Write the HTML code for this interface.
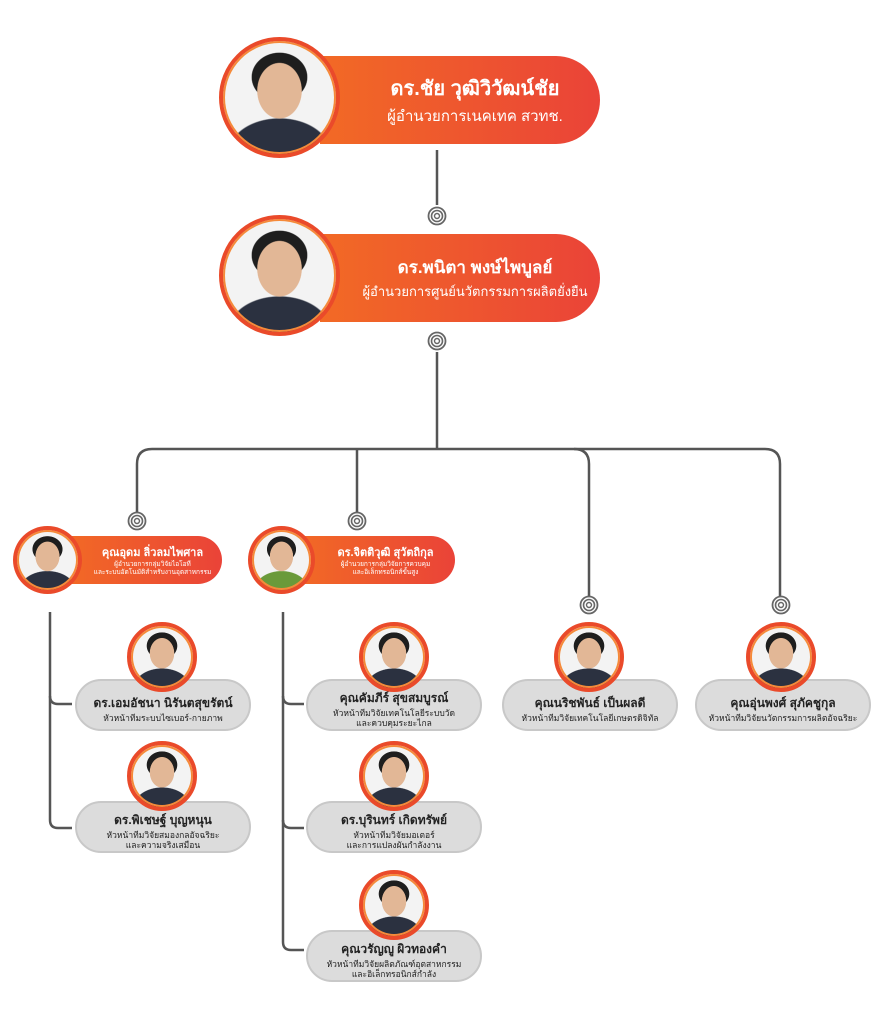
<!DOCTYPE html>
<html><head><meta charset="utf-8">
<style>
*{margin:0;padding:0;box-sizing:border-box}
body{width:894px;height:1024px;background:#fff;position:relative;overflow:hidden;font-family:"Liberation Sans","DejaVu Sans",sans-serif}
.abs{position:absolute}
.pill{position:absolute;background:linear-gradient(90deg,#f26a25,#ea4338);color:#fff;text-align:center;display:flex;flex-direction:column;justify-content:center;border-radius:0 60px 60px 0}
.ph{position:absolute;border-radius:50%;border:4px solid #ea4a2a;box-shadow:0 0 0 2px #f58a3a inset;
background:radial-gradient(ellipse 20% 25% at 50% 44%,#e2b796 97%,transparent 100%),radial-gradient(ellipse 25% 22% at 50% 32%,#1e1e1e 97%,transparent 100%),radial-gradient(ellipse 46% 32% at 50% 100%,#2b3140 97%,transparent 100%),#f3f3f3}
.card{position:absolute;background:#dcdcdc;border:2px solid #c8c8c8;border-radius:26px;text-align:center;color:#222;display:flex;flex-direction:column;justify-content:center;padding-top:6px}
.card b{font-size:12px}
.card span{font-size:8.5px;line-height:10px}
</style></head><body>
<svg class="abs" style="left:0;top:0" width="894" height="1024">
<g fill="none" stroke="#555" stroke-width="2.5">
<path d="M437 150V205"/>
<path d="M437 352V449"/>
<path d="M137 512V464Q137 449 152 449H765Q780 449 780 464V596"/>
<path d="M357 449V512"/>
<path d="M574 449Q589 449 589 464V596"/>
<path d="M50 612V820Q50 828 58 828H72"/>
<path d="M50 696Q50 704 58 704H72"/>
<path d="M283 612V942Q283 950 291 950H304"/>
<path d="M283 696Q283 704 291 704H304"/>
<path d="M283 820Q283 828 291 828H304"/>
</g>
<defs><g id="ic"><circle r="8.5" fill="#fff" stroke="#666" stroke-width="1.8"/><circle r="5.5" fill="none" stroke="#666" stroke-width="1.6"/><circle r="2.5" fill="none" stroke="#666" stroke-width="1.4"/></g></defs>
<use href="#ic" x="437" y="216"/><use href="#ic" x="437" y="341"/>
<use href="#ic" x="137" y="521"/><use href="#ic" x="357" y="521"/>
<use href="#ic" x="589" y="605"/><use href="#ic" x="781" y="605"/>
</svg>

<div class="pill" style="left:320px;top:56px;width:280px;height:88px;padding-left:30px"><div style="font-size:20px;font-weight:bold">ดร.ชัย วุฒิวิวัฒน์ชัย</div><div style="font-size:15px">ผู้อำนวยการเนคเทค สวทช.</div></div>
<div class="ph" style="left:219px;top:37px;width:121px;height:121px"></div>

<div class="pill" style="left:320px;top:234px;width:280px;height:88px;padding-left:30px"><div style="font-size:17px;font-weight:bold">ดร.พนิตา พงษ์ไพบูลย์</div><div style="font-size:13px">ผู้อำนวยการศูนย์นวัตกรรมการผลิตยั่งยืน</div></div>
<div class="ph" style="left:219px;top:215px;width:121px;height:121px"></div>

<div class="pill" style="left:65px;top:536px;width:157px;height:48px;padding-left:18px;border-radius:0 24px 24px 0"><div style="font-size:11px;font-weight:bold">คุณอุดม ลิ่วลมไพศาล</div><div style="font-size:6.5px;line-height:8px">ผู้อำนวยการกลุ่มวิจัยไอโอที<br>และระบบอัตโนมัติสำหรับงานอุตสาหกรรม</div></div>
<div class="ph" style="left:13px;top:526px;width:69px;height:68px"></div>

<div class="pill" style="left:298px;top:536px;width:157px;height:48px;padding-left:18px;border-radius:0 24px 24px 0"><div style="font-size:11px;font-weight:bold">ดร.จิตติวุฒิ สุวัตถิกุล</div><div style="font-size:6.5px;line-height:8px">ผู้อำนวยการกลุ่มวิจัยการควบคุม<br>และอิเล็กทรอนิกส์ขั้นสูง</div></div>
<div class="ph" style="left:248px;top:526px;width:67px;height:68px;background:radial-gradient(ellipse 20% 25% at 50% 44%,#e2b796 97%,transparent 100%),radial-gradient(ellipse 25% 22% at 50% 32%,#1e1e1e 97%,transparent 100%),radial-gradient(ellipse 46% 32% at 50% 100%,#6a9a3a 97%,transparent 100%),#f3f3f3"></div>

<div class="card" style="left:75px;top:679px;width:176px;height:52px"><b>ดร.เอมอัชนา นิรันตสุขรัตน์</b><span>หัวหน้าทีมระบบไซเบอร์-กายภาพ</span></div>
<div class="ph" style="left:127px;top:622px;width:70px;height:70px"></div>
<div class="card" style="left:75px;top:801px;width:176px;height:52px"><b>ดร.พิเชษฐ์ บุญหนุน</b><span>หัวหน้าทีมวิจัยสมองกลอัจฉริยะ<br>และความจริงเสมือน</span></div>
<div class="ph" style="left:127px;top:741px;width:70px;height:70px"></div>

<div class="card" style="left:306px;top:679px;width:176px;height:52px"><b>คุณคัมภีร์ สุขสมบูรณ์</b><span>หัวหน้าทีมวิจัยเทคโนโลยีระบบวัด<br>และควบคุมระยะไกล</span></div>
<div class="ph" style="left:359px;top:622px;width:70px;height:70px"></div>
<div class="card" style="left:306px;top:801px;width:176px;height:52px"><b>ดร.บุรินทร์ เกิดทรัพย์</b><span>หัวหน้าทีมวิจัยมอเตอร์<br>และการแปลงผันกำลังงาน</span></div>
<div class="ph" style="left:359px;top:741px;width:70px;height:70px"></div>
<div class="card" style="left:306px;top:930px;width:176px;height:52px"><b>คุณวรัญญู ผิวทองคำ</b><span>หัวหน้าทีมวิจัยผลิตภัณฑ์อุตสาหกรรม<br>และอิเล็กทรอนิกส์กำลัง</span></div>
<div class="ph" style="left:359px;top:870px;width:70px;height:70px"></div>

<div class="card" style="left:502px;top:679px;width:176px;height:52px"><b>คุณนริชพันธ์ เป็นผลดี</b><span>หัวหน้าทีมวิจัยเทคโนโลยีเกษตรดิจิทัล</span></div>
<div class="ph" style="left:554px;top:622px;width:70px;height:70px"></div>
<div class="card" style="left:695px;top:679px;width:176px;height:52px"><b>คุณอุ่นพงศ์ สุภัคชูกุล</b><span>หัวหน้าทีมวิจัยนวัตกรรมการผลิตอัจฉริยะ</span></div>
<div class="ph" style="left:746px;top:622px;width:70px;height:70px"></div>
</body></html>
